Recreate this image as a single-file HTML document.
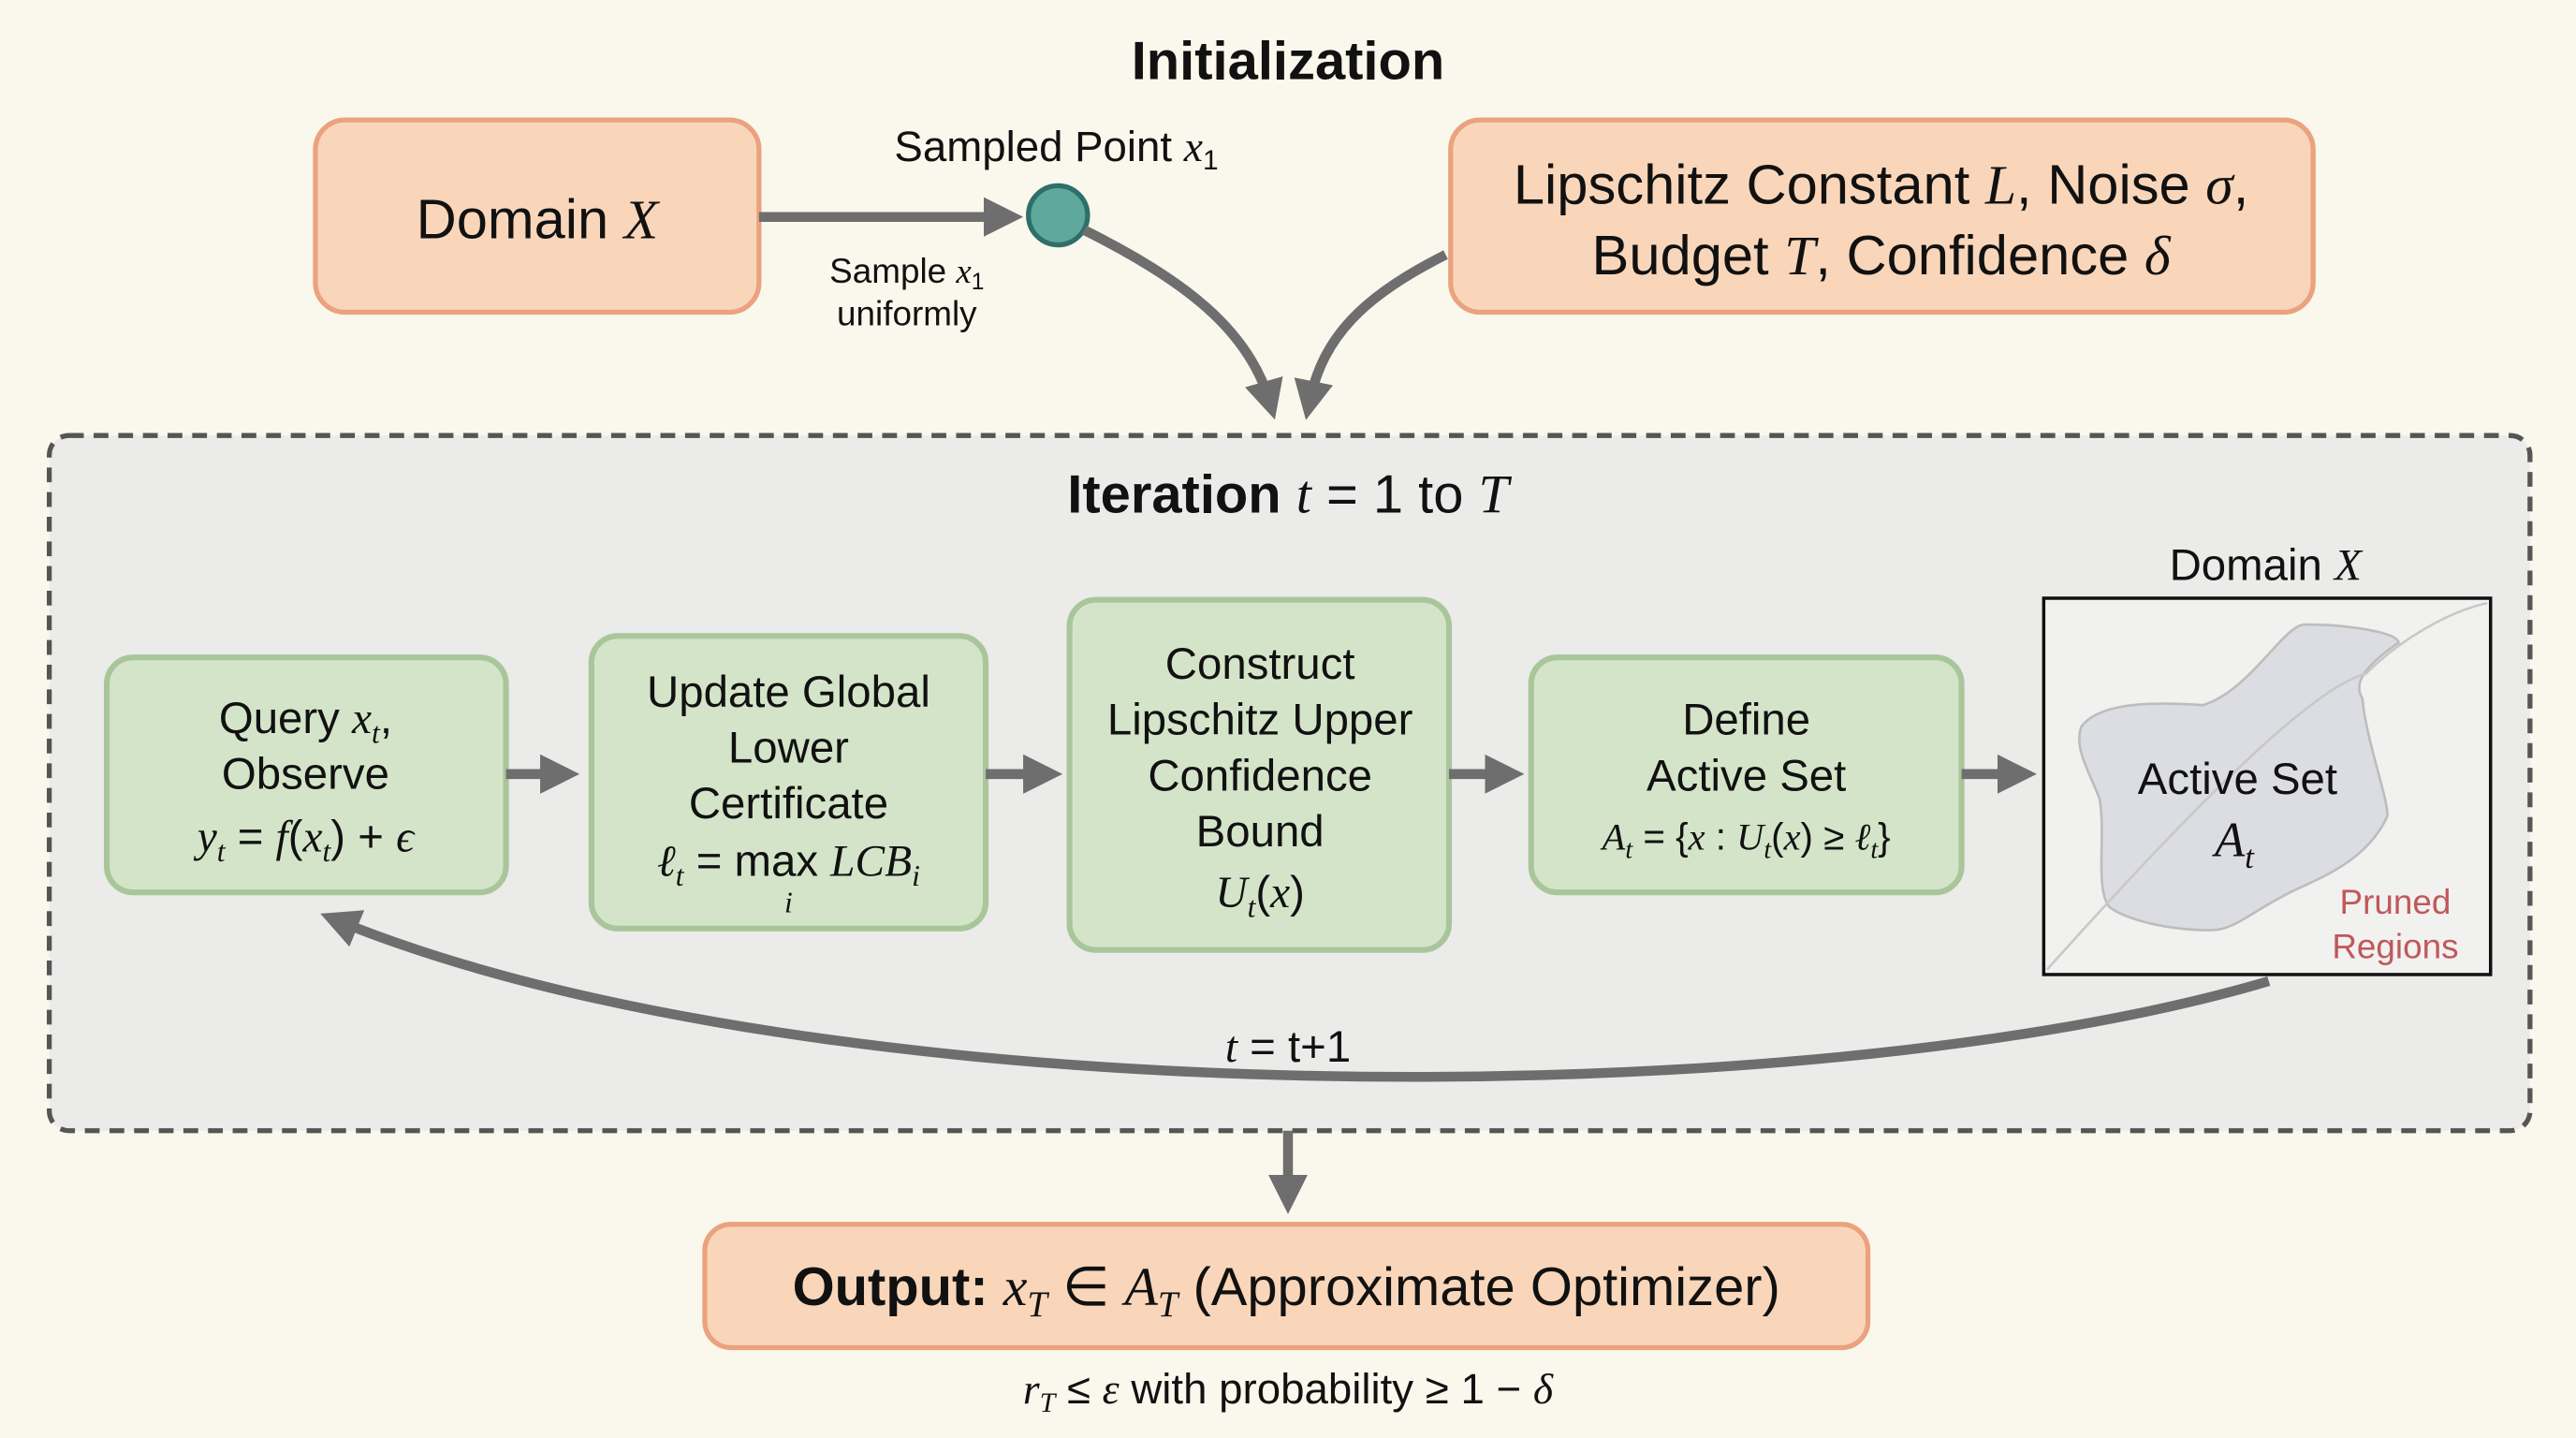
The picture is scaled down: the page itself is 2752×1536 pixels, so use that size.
<!DOCTYPE html>
<html><head><meta charset="utf-8"><style>
html,body{margin:0;padding:0;background:#faf7ec}
svg{display:block}
text{font-family:"Liberation Sans",sans-serif;fill:#111}
.m{font-family:"Liberation Serif",serif;font-style:italic}
</style></head><body>
<svg width="2752" height="1536" viewBox="0 0 1568 875" preserveAspectRatio="none" xmlns="http://www.w3.org/2000/svg">
<defs>
<marker id="ah" markerWidth="4" markerHeight="4" refX="2.2" refY="2" orient="auto" markerUnits="strokeWidth"><path d="M0,0 L4,2 L0,4 z" fill="#6e6e6e"/></marker>
</defs>
<rect width="1568" height="875" fill="#faf7ec"/>
<text x="784" y="48" text-anchor="middle" font-size="33" font-weight="bold">Initialization</text>

<rect x="192" y="73" width="270" height="117" rx="18" fill="#f9d6ba" stroke="#eaa27f" stroke-width="3"/>
<text x="327" y="145" text-anchor="middle" font-size="34">Domain <tspan class="m">X</tspan></text>

<line x1="462" y1="132" x2="612" y2="132" stroke="#6e6e6e" stroke-width="6" marker-end="url(#ah)"/>
<circle cx="644" cy="131" r="18" fill="#5fa89c" stroke="#2e6f6c" stroke-width="3"/>
<text x="643" y="98" text-anchor="middle" font-size="26">Sampled Point <tspan class="m">x</tspan><tspan font-size="17" dy="5">1</tspan></text>
<text x="552" y="172" text-anchor="middle" font-size="21">Sample <tspan class="m">x</tspan><tspan font-size="14" dy="4">1</tspan></text>
<text x="552" y="198" text-anchor="middle" font-size="21">uniformly</text>

<rect x="883" y="73" width="525" height="117" rx="18" fill="#f9d6ba" stroke="#eaa27f" stroke-width="3"/>
<text x="1145" y="124" text-anchor="middle" font-size="34">Lipschitz Constant <tspan class="m">L</tspan>, Noise <tspan class="m">σ</tspan>,</text>
<text x="1145" y="167" text-anchor="middle" font-size="34">Budget <tspan class="m">T</tspan>, Confidence <tspan class="m">δ</tspan></text>

<path d="M660,140 C720,170 760,200 773,245" fill="none" stroke="#6e6e6e" stroke-width="6" marker-end="url(#ah)"/>
<path d="M880,155 C830,180 805,205 797,245" fill="none" stroke="#6e6e6e" stroke-width="6" marker-end="url(#ah)"/>

<rect x="30" y="265" width="1510" height="423" rx="12" fill="#ebebea" stroke="#555" stroke-width="3" stroke-dasharray="9,6"/>
<text x="784" y="312" text-anchor="middle" font-size="33"><tspan font-weight="bold">Iteration </tspan><tspan class="m">t</tspan> = 1 to <tspan class="m">T</tspan></text>

<g fill="#d4e4c9" stroke="#a9c69b" stroke-width="3.5">
<rect x="65" y="400" width="243" height="143" rx="16"/>
<rect x="360" y="387" width="240" height="178" rx="16"/>
<rect x="651" y="365" width="231" height="213" rx="16"/>
<rect x="932" y="400" width="262" height="143" rx="16"/>
</g>
<g font-size="27" text-anchor="middle">
<text x="186" y="446">Query <tspan class="m">x</tspan><tspan class="m" font-size="18" dy="6">t</tspan><tspan dy="-6">,</tspan></text>
<text x="186" y="480">Observe</text>
<text x="186" y="518"><tspan class="m">y</tspan><tspan class="m" font-size="18" dy="6">t</tspan><tspan dy="-6"> = </tspan><tspan class="m">f</tspan>(<tspan class="m">x</tspan><tspan class="m" font-size="18" dy="6">t</tspan><tspan dy="-6">) + </tspan><tspan class="m">ϵ</tspan></text>
<text x="480" y="430">Update Global</text>
<text x="480" y="464">Lower</text>
<text x="480" y="498">Certificate</text>
<text x="480" y="533"><tspan class="m">ℓ</tspan><tspan class="m" font-size="18" dy="6">t</tspan><tspan dy="-6"> = max </tspan><tspan class="m">LCB</tspan><tspan class="m" font-size="18" dy="6">i</tspan></text>
<text x="480" y="555" class="m" font-size="18">i</text>
<text x="767" y="413">Construct</text>
<text x="767" y="447">Lipschitz Upper</text>
<text x="767" y="481">Confidence</text>
<text x="767" y="515">Bound</text>
<text x="767" y="552"><tspan class="m">U</tspan><tspan class="m" font-size="18" dy="6">t</tspan><tspan dy="-6">(</tspan><tspan class="m">x</tspan>)</text>
<text x="1063" y="447">Define</text>
<text x="1063" y="481">Active Set</text>
<text x="1063" y="517" font-size="23"><tspan class="m">A</tspan><tspan class="m" font-size="16" dy="5">t</tspan><tspan dy="-5"> = {</tspan><tspan class="m">x</tspan> : <tspan class="m">U</tspan><tspan class="m" font-size="16" dy="5">t</tspan><tspan dy="-5">(</tspan><tspan class="m">x</tspan>) ≥ <tspan class="m">ℓ</tspan><tspan class="m" font-size="16" dy="5">t</tspan><tspan dy="-5">}</tspan></text>
</g>

<g stroke="#6e6e6e" stroke-width="6">
<line x1="308" y1="471" x2="342" y2="471" marker-end="url(#ah)"/>
<line x1="600" y1="471" x2="636" y2="471" marker-end="url(#ah)"/>
<line x1="882" y1="471" x2="917" y2="471" marker-end="url(#ah)"/>
<line x1="1194" y1="471" x2="1229" y2="471" marker-end="url(#ah)"/>
</g>

<text x="1379" y="353" text-anchor="middle" font-size="27">Domain <tspan class="m">X</tspan></text>
<rect x="1244" y="364" width="272" height="229" fill="#f1f1f0" stroke="#111" stroke-width="2"/>
<path d="M1267,442 C1280,425 1320,428 1341,429 C1370,420 1390,380 1403,380 C1430,380 1460,385 1460,391 C1440,405 1432,415 1438,425 C1440,450 1455,490 1453,497 C1440,525 1410,535 1394,543 C1370,555 1360,566 1346,566 C1320,566 1295,560 1284,552 C1275,540 1282,510 1278,486 C1272,470 1262,455 1267,442 Z" fill="#dcdde2" stroke="#bdbdbd" stroke-width="1.5"/>
<path d="M1246,590 C1300,530 1400,420 1440,410 C1460,390 1490,372 1514,367" fill="none" stroke="#c8c8c8" stroke-width="1.5"/>
<text x="1362" y="483" text-anchor="middle" font-size="27">Active Set</text>
<text x="1360" y="521" text-anchor="middle" font-size="30" class="m">A<tspan font-size="20" dy="7">t</tspan></text>
<text x="1458" y="556" text-anchor="middle" font-size="21" fill="#c0585a" style="fill:#c0585a">Pruned</text>
<text x="1458" y="583" text-anchor="middle" font-size="21" style="fill:#c0585a">Regions</text>

<path d="M1381,597 C1100,680 500,680 205,560" fill="none" stroke="#6e6e6e" stroke-width="6" marker-end="url(#ah)"/>
<text x="784" y="646" text-anchor="middle" font-size="27"><tspan class="m">t</tspan> = t+1</text>

<line x1="784" y1="688" x2="784" y2="728" stroke="#6e6e6e" stroke-width="6" marker-end="url(#ah)"/>

<rect x="429" y="745" width="708" height="75" rx="16" fill="#f9d6ba" stroke="#eaa27f" stroke-width="3"/>
<text x="783" y="794" text-anchor="middle" font-size="33"><tspan font-weight="bold">Output:</tspan> <tspan class="m">x</tspan><tspan class="m" font-size="22" dy="7">T</tspan><tspan dy="-7"> ∈ </tspan><tspan class="m">A</tspan><tspan class="m" font-size="22" dy="7">T</tspan><tspan dy="-7"> (Approximate Optimizer)</tspan></text>
<text x="784" y="854" text-anchor="middle" font-size="26"><tspan class="m">r</tspan><tspan class="m" font-size="17" dy="5">T</tspan><tspan dy="-5"> ≤ </tspan><tspan class="m">ε</tspan> with probability ≥ 1 − <tspan class="m">δ</tspan></text>
</svg>
</body></html>
